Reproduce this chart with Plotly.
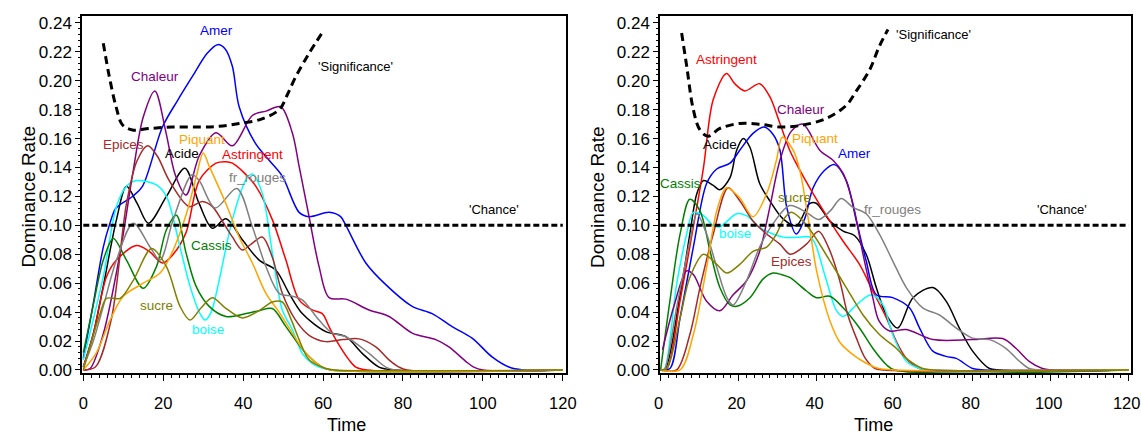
import plotly.graph_objects as go

# ---------------- LEFT PANEL DATA ----------------
L_ACIDE_T = [0, 2.5, 5, 8.3, 10.8, 13.5, 16.3, 20.8, 25.4, 29, 32.3, 35.7, 39.8, 44, 48.2, 51.5, 54.8, 60.7, 65.7, 69.8, 74, 78, 120]
L_ACIDE_V = [0.002, 0.025, 0.058, 0.104, 0.127, 0.115, 0.1015, 0.12, 0.1395, 0.115, 0.098, 0.1045, 0.090, 0.076, 0.069, 0.053, 0.039, 0.0265, 0.023, 0.0115, 0.002, 0, 0]

L_AMER_T = [0, 2.5, 5, 6.5, 8.2, 12.3, 14.8, 19.8, 23.5, 27.3, 31, 33.6, 35.5, 37.3, 39, 43, 46.5, 49.8, 54, 56.5, 61.5, 64.4, 65.7, 70.7, 75.7, 82.3, 87.3, 92.3, 97.3, 102.3, 106.5, 110, 120]
L_AMER_V = [0.008, 0.046, 0.085, 0.10, 0.112, 0.12, 0.127, 0.168, 0.186, 0.203, 0.219, 0.225, 0.222, 0.21, 0.182, 0.157, 0.145, 0.134, 0.109, 0.106, 0.109, 0.106, 0.100, 0.074, 0.059, 0.044, 0.039, 0.030, 0.022, 0.009, 0.002, 0, 0]

L_ASTR_T = [0, 2.5, 5.8, 8.3, 13.3, 16.5, 19.8, 22.5, 25.7, 29, 33.2, 35.7, 37.3, 40, 43.2, 47.3, 50.7, 54, 57.3, 59.8, 61.5, 63.2, 66.5, 68.2, 71, 120]
L_ASTR_V = [0.002, 0.025, 0.0645, 0.076, 0.086, 0.082, 0.074, 0.08, 0.095, 0.131, 0.143, 0.144, 0.143, 0.137, 0.127, 0.104, 0.076, 0.0485, 0.0415, 0.039, 0.030, 0.021, 0.007, 0.002, 0, 0]

L_BOISE_T = [0, 2.5, 5, 8.3, 10.8, 13.3, 18.3, 20.8, 24.2, 26.7, 29.2, 30.5, 32, 34, 37.3, 40.7, 42.3, 44.8, 47.3, 49.8, 52.3, 54.8, 57, 59, 62, 120]
L_BOISE_V = [0.007, 0.035, 0.0645, 0.113, 0.127, 0.131, 0.128, 0.120, 0.085, 0.058, 0.039, 0.0345, 0.040, 0.062, 0.104, 0.1315, 0.1355, 0.122, 0.081, 0.0415, 0.028, 0.0115, 0.005, 0.002, 0, 0]

L_CASSIS_T = [0, 2.5, 5, 7.5, 10.8, 15, 18.3, 20.8, 23.3, 25.7, 28.2, 31.5, 35.7, 40.7, 44, 47.3, 50.7, 55.7, 59.8, 62, 120]
L_CASSIS_V = [0.012, 0.045, 0.076, 0.091, 0.076, 0.0565, 0.0715, 0.097, 0.107, 0.081, 0.058, 0.044, 0.037, 0.039, 0.041, 0.0425, 0.030, 0.0115, 0.002, 0, 0]

L_CHAL_T = [0, 1.7, 5, 9.2, 12.5, 15, 17.9, 20.7, 23, 25.7, 29, 33.2, 37.3, 42.3, 45.7, 49.4, 52.3, 54, 56.5, 59, 61.5, 65.7, 71.5, 76.5, 82.3, 88.2, 91.5, 95.7, 97.7, 100, 120]
L_CHAL_V = [0.0, 0.001, 0.025, 0.081, 0.138, 0.175, 0.193, 0.164, 0.135, 0.121, 0.148, 0.164, 0.155, 0.176, 0.179, 0.182, 0.164, 0.141, 0.106, 0.0715, 0.050, 0.049, 0.0415, 0.037, 0.0255, 0.021, 0.016, 0.006, 0.002, 0, 0]

L_EPIC_T = [0, 3, 7, 10.8, 13.5, 16.1, 18.5, 21.5, 26.5, 29.8, 32.3, 35, 37.3, 39.8, 42, 44.8, 47.3, 49.8, 53, 56.5, 60.7, 65, 69, 73.2, 76.5, 79, 81, 120]
L_EPIC_V = [0.0, 0.002, 0.035, 0.115, 0.145, 0.155, 0.148, 0.131, 0.113, 0.1165, 0.113, 0.102, 0.092, 0.083, 0.087, 0.092, 0.078, 0.053, 0.035, 0.024, 0.0196, 0.021, 0.0215, 0.016, 0.007, 0.002, 0, 0]

L_FRR_T = [0, 2.5, 5, 8.3, 12.5, 16.7, 19.2, 22.5, 27.2, 29, 33, 38.4, 42.3, 45.7, 49, 52.3, 54.8, 59, 62.3, 65.7, 71.5, 75.7, 78, 120]
L_FRR_V = [0.002, 0.02, 0.044, 0.076, 0.1015, 0.085, 0.076, 0.104, 0.135, 0.131, 0.112, 0.1255, 0.099, 0.0715, 0.053, 0.051, 0.0485, 0.0345, 0.0255, 0.023, 0.0115, 0.002, 0, 0]

L_PIQ_T = [0, 3.3, 6.7, 10, 15, 19.2, 22.5, 25.8, 28.3, 30, 31.5, 35.7, 39, 42.3, 45.7, 49, 52.3, 55.7, 59.8, 62, 120]
L_PIQ_V = [0.0, 0.012, 0.0345, 0.051, 0.060, 0.067, 0.083, 0.108, 0.134, 0.150, 0.141, 0.115, 0.092, 0.074, 0.053, 0.040, 0.0255, 0.0115, 0.002, 0, 0]

L_SUCRE_T = [0, 4.2, 5.8, 9.2, 12.5, 17.1, 20.8, 24.2, 26.7, 29.5, 32.3, 35.5, 39.8, 44, 47.3, 49.8, 52, 54, 56.5, 60.7, 63, 120]
L_SUCRE_V = [0.0, 0.039, 0.0495, 0.0495, 0.062, 0.084, 0.0715, 0.044, 0.0345, 0.043, 0.050, 0.043, 0.036, 0.041, 0.047, 0.047, 0.035, 0.021, 0.007, 0.001, 0, 0]

L_SIG_T = [5, 6.5, 8.2, 9.8, 12.3, 16.5, 22.3, 29, 34, 39, 44, 49, 51, 53.2, 56.5, 60.2]
L_SIG_V = [0.226, 0.203, 0.182, 0.1695, 0.166, 0.167, 0.168, 0.168, 0.1685, 0.1705, 0.173, 0.180, 0.19, 0.203, 0.219, 0.235]

# ---------------- RIGHT PANEL DATA ----------------
R_ACIDE_T = [0, 1.2, 5, 7.5, 9.3, 11, 13.5, 15.2, 17.8, 19.5, 21.2, 22.9, 25.4, 28, 31.4, 34.8, 38.2, 39.9, 43.4, 46.8, 49.7, 52.7, 55.3, 57.9, 60.8, 64.7, 69.8, 73.2, 76.6, 80, 84.3, 87, 120]
R_ACIDE_V = [0, 0.001, 0.052, 0.094, 0.122, 0.131, 0.1276, 0.1246, 0.133, 0.152, 0.160, 0.154, 0.129, 0.117, 0.1045, 0.0998, 0.115, 0.1153, 0.103, 0.096, 0.093, 0.080, 0.057, 0.038, 0.029, 0.050, 0.057, 0.0476, 0.029, 0.013, 0.001, 0, 0]

R_AMER_T = [0, 2.4, 5, 8.4, 11.8, 14.4, 17.8, 20.3, 23.7, 26.5, 28.8, 30.6, 32.3, 34.8, 37, 39.1, 42, 44.6, 47.6, 50.2, 52.7, 55.3, 59.5, 63.8, 66.4, 69.8, 73.2, 75.8, 80, 83, 120]
R_AMER_V = [0, 0.001, 0.036, 0.085, 0.129, 0.139, 0.143, 0.152, 0.1636, 0.168, 0.163, 0.152, 0.113, 0.094, 0.105, 0.126, 0.138, 0.142, 0.131, 0.103, 0.0755, 0.052, 0.050, 0.043, 0.029, 0.013, 0.0094, 0.008, 0.001, 0, 0]

R_ASTR_T = [0, 1.6, 5, 8.4, 11, 13.5, 16.9, 19, 21.6, 25.4, 28, 30.6, 33.1, 34.8, 39.1, 43.4, 46.8, 51, 54.4, 57.9, 60.4, 63, 66.4, 69, 120]
R_ASTR_V = [0, 0.001, 0.048, 0.099, 0.140, 0.187, 0.205, 0.198, 0.193, 0.198, 0.189, 0.1705, 0.152, 0.1427, 0.122, 0.103, 0.089, 0.073, 0.0546, 0.036, 0.020, 0.008, 0.001, 0, 0]

R_BOISE_T = [0, 0.9, 4.1, 6.7, 8.4, 11, 13.5, 15.2, 19.5, 22, 25.4, 28.8, 31.8, 35, 38.2, 39.5, 42.5, 45.1, 46.8, 50.2, 54, 57, 59.5, 63, 66.4, 69, 120]
R_BOISE_V = [0, 0.0, 0.059, 0.094, 0.109, 0.1067, 0.0998, 0.099, 0.108, 0.1067, 0.0986, 0.094, 0.0917, 0.0917, 0.092, 0.088, 0.062, 0.041, 0.037, 0.045, 0.052, 0.045, 0.0245, 0.006, 0.001, 0, 0]

R_CASSIS_T = [0, 2.4, 5, 7.5, 10.1, 12.7, 15.2, 17.8, 19.5, 22.9, 26.3, 28.8, 31, 33.1, 37.4, 39.9, 43.4, 46.8, 51, 54.4, 57.9, 60, 120]
R_CASSIS_V = [0, 0.048, 0.094, 0.118, 0.110, 0.082, 0.057, 0.045, 0.044, 0.050, 0.063, 0.067, 0.066, 0.064, 0.0546, 0.050, 0.051, 0.043, 0.029, 0.015, 0.0036, 0, 0]

R_CHAL_T = [0.5, 3.3, 6.7, 8.4, 11.8, 15.2, 18.6, 22, 25.4, 28, 30.6, 33.5, 36.5, 40.8, 44.2, 46.8, 49.3, 51.9, 54.4, 56, 58.7, 63, 69.8, 80, 87.7, 91.1, 94.5, 97.9, 100, 120]
R_CHAL_V = [0.014, 0.043, 0.0685, 0.066, 0.0476, 0.041, 0.052, 0.0615, 0.082, 0.1125, 0.145, 0.165, 0.170, 0.152, 0.145, 0.136, 0.115, 0.080, 0.050, 0.034, 0.027, 0.028, 0.021, 0.021, 0.0217, 0.015, 0.006, 0.001, 0, 0]

R_EPIC_T = [0, 4.1, 7.5, 10.1, 13.5, 17.3, 20.3, 23.7, 27.2, 30.6, 33.3, 37.4, 40.5, 43, 45.9, 48, 50.2, 52.5, 55, 57, 120]
R_EPIC_V = [0, 0.0, 0.0245, 0.057, 0.094, 0.126, 0.117, 0.103, 0.094, 0.087, 0.080, 0.087, 0.096, 0.085, 0.062, 0.038, 0.022, 0.008, 0.001, 0, 0]

R_FRR_T = [0, 0.9, 4.1, 7.5, 9.3, 11.8, 14.4, 17, 18.6, 22, 25.4, 28.8, 33.1, 37.4, 40.5, 43.5, 46.3, 49.3, 52.7, 56.1, 59.5, 63, 67.2, 71.5, 75.8, 80, 84.3, 88.5, 92, 94.5, 97, 120]
R_FRR_V = [0, 0, 0.043, 0.089, 0.108, 0.094, 0.071, 0.050, 0.045, 0.0615, 0.085, 0.101, 0.1137, 0.109, 0.104, 0.11, 0.1185, 0.1125, 0.108, 0.094, 0.0755, 0.057, 0.043, 0.038, 0.029, 0.022, 0.021, 0.015, 0.006, 0.001, 0, 0]

R_PIQ_T = [0, 5, 8.4, 11.8, 14.4, 16.9, 20.3, 23.7, 27.2, 29.7, 31.2, 34, 35.7, 38.2, 40, 43.4, 46, 49.3, 52.5, 56, 60, 120]
R_PIQ_V = [0, 0, 0.0245, 0.071, 0.110, 0.126, 0.119, 0.106, 0.122, 0.145, 0.161, 0.152, 0.138, 0.0986, 0.0685, 0.034, 0.019, 0.0106, 0.005, 0.001, 0, 0]

R_SUCRE_T = [0, 1.6, 5, 7.5, 11, 14.4, 17, 20.3, 23.7, 27.2, 29.7, 31.5, 33.5, 36.5, 39.1, 43.4, 47.6, 51.9, 56.1, 60.4, 63, 67.2, 70, 120]
R_SUCRE_V = [0, 0.001, 0.036, 0.064, 0.080, 0.073, 0.067, 0.073, 0.082, 0.085, 0.094, 0.104, 0.109, 0.103, 0.094, 0.0755, 0.057, 0.038, 0.0245, 0.015, 0.008, 0.001, 0, 0]

R_SIG_T = [5.4, 6.7, 8.4, 10.1, 12.2, 15.2, 20.3, 25.4, 30.6, 35.7, 42.5, 47.6, 50.2, 53.6, 56.1, 58.3]
R_SIG_V = [0.233, 0.210, 0.180, 0.166, 0.1617, 0.167, 0.1705, 0.170, 0.168, 0.169, 0.174, 0.183, 0.193, 0.2076, 0.224, 0.2354]

CHANCE_T = [0, 120]
CHANCE_V = [0.10, 0.10]

COLORS = {
    "Acide": "#000000", "Amer": "#0000ff", "Astringent": "#ff0000", "boise": "#00ffff",
    "Cassis": "#008000", "Chaleur": "#800080", "Epices": "#a52a2a", "fr_rouges": "#808080",
    "Piquant": "#ffa500", "sucre": "#808000",
}

LEFT = [
    ("Acide", L_ACIDE_T, L_ACIDE_V), ("Amer", L_AMER_T, L_AMER_V),
    ("Astringent", L_ASTR_T, L_ASTR_V), ("boise", L_BOISE_T, L_BOISE_V),
    ("Cassis", L_CASSIS_T, L_CASSIS_V), ("Chaleur", L_CHAL_T, L_CHAL_V),
    ("Epices", L_EPIC_T, L_EPIC_V), ("fr_rouges", L_FRR_T, L_FRR_V),
    ("Piquant", L_PIQ_T, L_PIQ_V), ("sucre", L_SUCRE_T, L_SUCRE_V),
]
RIGHT = [
    ("Acide", R_ACIDE_T, R_ACIDE_V), ("Amer", R_AMER_T, R_AMER_V),
    ("Astringent", R_ASTR_T, R_ASTR_V), ("boise", R_BOISE_T, R_BOISE_V),
    ("Cassis", R_CASSIS_T, R_CASSIS_V), ("Chaleur", R_CHAL_T, R_CHAL_V),
    ("Epices", R_EPIC_T, R_EPIC_V), ("fr_rouges", R_FRR_T, R_FRR_V),
    ("Piquant", R_PIQ_T, R_PIQ_V), ("sucre", R_SUCRE_T, R_SUCRE_V),
]

# label positions (time, rate) for each panel
LEFT_LABELS = {
    "Amer": (33.3, 0.2346), "Chaleur": (17.9, 0.203), "Epices": (10, 0.156),
    "Acide": (24.7, 0.1495), "Piquant": (29.8, 0.1596), "Astringent": (42.3, 0.1488),
    "fr_rouges": (43.6, 0.133), "Cassis": (32.1, 0.0858), "sucre": (18.4, 0.0443),
    "boise": (31.3, 0.028),
}
RIGHT_LABELS = {
    "Astringent": (16.9, 0.215), "Chaleur": (36.1, 0.180), "Piquant": (39.5, 0.160),
    "Amer": (49.7, 0.1497), "Acide": (15.2, 0.156), "Cassis": (5.0, 0.129),
    "sucre": (34.4, 0.1195), "fr_rouges": (59.5, 0.1107), "boise": (19.1, 0.0944),
    "Epices": (33.6, 0.0748),
}
SIG_LABEL_L = (68.0, 0.210)
SIG_LABEL_R = (70.0, 0.232)
CHANCE_LABEL_L = (102.8, 0.1107)
CHANCE_LABEL_R = (103.0, 0.111)

FONT = "Liberation Sans, Arial, sans-serif"

fig = go.Figure()

def add_panel(series, sig_t, sig_v, xa, ya):
    for name, t, v in series:
        fig.add_trace(go.Scatter(x=t, y=v, mode="lines", xaxis=xa, yaxis=ya,
                                 line=dict(color=COLORS[name], width=1.5, shape="spline", smoothing=0.9),
                                 showlegend=False, hoverinfo="skip"))
    fig.add_trace(go.Scatter(x=CHANCE_T, y=CHANCE_V, mode="lines", xaxis=xa, yaxis=ya,
                             line=dict(color="black", width=3, dash="6px,3px"),
                             showlegend=False, hoverinfo="skip"))
    fig.add_trace(go.Scatter(x=sig_t, y=sig_v, mode="lines", xaxis=xa, yaxis=ya,
                             line=dict(color="black", width=3, dash="8px,5px", shape="spline"),
                             showlegend=False, hoverinfo="skip"))

add_panel(LEFT, L_SIG_T, L_SIG_V, "x", "y")
add_panel(RIGHT, R_SIG_T, R_SIG_V, "x2", "y2")

ann = []
def add_labels(labels, sig, chance, xr, yr):
    for name, (t, v) in labels.items():
        ann.append(dict(x=t, y=v, xref=xr, yref=yr, text=name, showarrow=False,
                        font=dict(family=FONT, size=13.5, color=COLORS[name])))
    ann.append(dict(x=sig[0], y=sig[1], xref=xr, yref=yr, text="'Significance'", showarrow=False,
                    font=dict(family=FONT, size=13, color="black")))
    ann.append(dict(x=chance[0], y=chance[1], xref=xr, yref=yr, text="'Chance'", showarrow=False,
                    font=dict(family=FONT, size=13, color="black")))

add_labels(LEFT_LABELS, SIG_LABEL_L, CHANCE_LABEL_L, "x", "y")
add_labels(RIGHT_LABELS, SIG_LABEL_R, CHANCE_LABEL_R, "x2", "y2")

W, H = 1141, 443
# axis titles
for xc in (15, 597):
    ann.append(dict(x=xc / W, y=1 - 197 / H, xref="paper", yref="paper", text="Dominance Rate",
                    textangle=-90, showarrow=False, font=dict(family=FONT, size=19, color="black")))
for xc in (325, 895):
    ann.append(dict(x=xc / W, y=1 - 437 / H, xref="paper", yref="paper", text="Time",
                    showarrow=False, font=dict(family=FONT, size=18, color="black")))

xcommon = dict(showline=True, linecolor="black", linewidth=1.5, mirror=True, showgrid=False,
               zeroline=False, tickmode="array", tickvals=[0, 20, 40, 60, 80, 100, 120],
               ticks="outside", ticklen=6, tickwidth=1, tickcolor="black", automargin=False,
               minor=dict(dtick=2, ticks="outside", ticklen=3, tickcolor="black", showgrid=False),
               tickfont=dict(family=FONT, size=16.5, color="black"), ticklabelstandoff=8,
               ticklabeloverflow="allow")
ycommon = dict(showline=True, linecolor="black", linewidth=1.5, mirror=True, showgrid=False,
               zeroline=False, range=[-0.0021, 0.2448], tickmode="array", automargin=False,
               tickvals=[0, 0.02, 0.04, 0.06, 0.08, 0.10, 0.12, 0.14, 0.16, 0.18, 0.20, 0.22, 0.24],
               ticktext=["0.00", "0.02", "0.04", "0.06", "0.08", "0.10", "0.12", "0.14", "0.16", "0.18", "0.20", "0.22", "0.24"],
               ticks="outside", ticklen=5, tickwidth=1, tickcolor="black",
               minor=dict(dtick=0.004, ticks="outside", ticklen=2, tickcolor="black", showgrid=False),
               tickfont=dict(family=FONT, size=17, color="black"))

ydom = [1 - 373 / H, 1 - 16 / H]
fig.update_layout(
    width=W, height=H, margin=dict(l=0, r=0, t=0, b=0, autoexpand=False),
    paper_bgcolor="white", plot_bgcolor="white", showlegend=False,
    xaxis=dict(domain=[82 / W, 566 / W], range=[-0.33, 120.8], anchor="y", **xcommon),
    yaxis=dict(domain=ydom, anchor="x", **ycommon),
    xaxis2=dict(domain=[660 / W, 1131 / W], range=[-0.15, 120.6], anchor="y2",
                ticklabelshift=-2, **xcommon),
    yaxis2=dict(domain=ydom, anchor="x2", **ycommon),
    annotations=ann,
)

fig.write_html("out.html", config={"displayModeBar": False},
               post_script="document.body.style.margin='0';document.body.style.padding='0';")
